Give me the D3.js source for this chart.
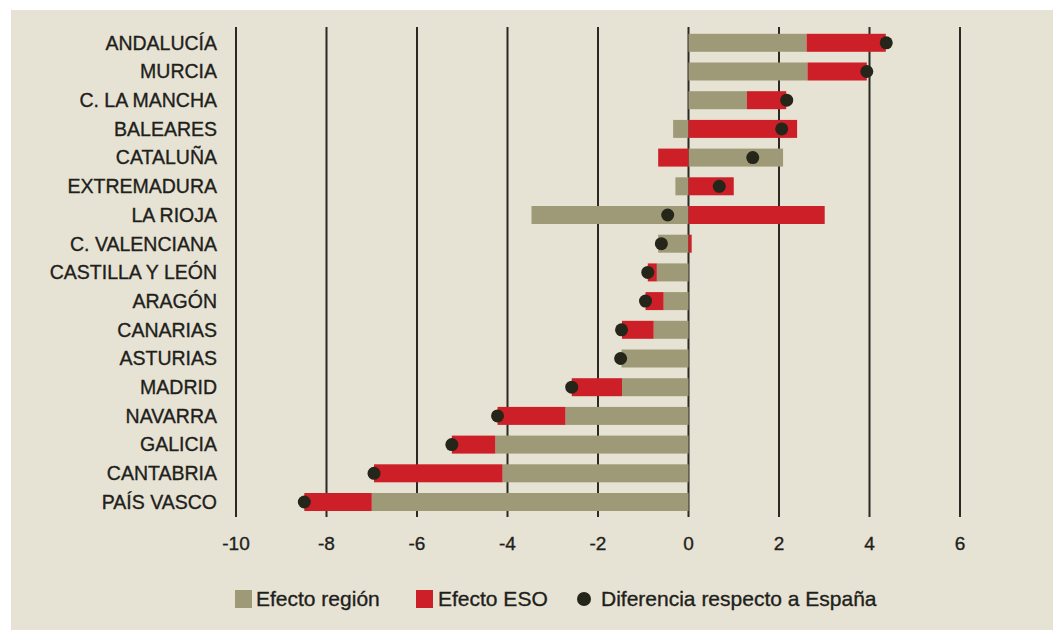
<!DOCTYPE html>
<meta charset="utf-8">
<script src="https://d3js.org/d3.v7.min.js"></script>
<style>
  body { margin: 0; background: #ffffff; }
  text { font-family: "Liberation Sans", Arial, sans-serif; fill: #1f1f1c; stroke: #1f1f1c; stroke-width: 0.35px; }
</style>
<div id="chart"></div>
<script>

// data
var regions = ["ANDALUCÍA", "MURCIA", "C. LA MANCHA", "BALEARES", "CATALUÑA", "EXTREMADURA",
  "LA RIOJA", "C. VALENCIANA", "CASTILLA Y LEÓN", "ARAGÓN", "CANARIAS", "ASTURIAS",
  "MADRID", "NAVARRA", "GALICIA", "CANTABRIA", "PAÍS VASCO"];
var efectoRegion = [2.61, 2.63, 1.29, -0.34, 2.09, -0.29, -3.47, -0.67, -0.70, -0.55, -0.77, -1.48, -1.47, -2.72, -4.27, -4.11, -7.00];
var efectoESO = [1.75, 1.31, 0.87, 2.40, -0.67, 1.00, 3.01, 0.07, -0.20, -0.40, -0.70, 0, -1.11, -1.50, -0.96, -2.84, -1.49];
var diferencia = [4.37, 3.94, 2.17, 2.06, 1.42, 0.68, -0.46, -0.60, -0.90, -0.95, -1.48, -1.50, -2.58, -4.22, -5.23, -6.95, -8.49];
var ticks = [-10, -8, -6, -4, -2, 0, 2, 4, 6];
var legendLabels = ["Efecto región", "Efecto ESO", "Diferencia respecto a España"];

var width = 1053, height = 630;
var cOlive = "#9e9a78", cRed = "#cc1f27", cDot = "#25251a";

var rows = regions.map(function(r, i) {
  return { name: r, reg: efectoRegion[i], eso: efectoESO[i], dif: diferencia[i] };
});

var svg = d3.select("#chart").append("svg")
  .attr("width", width)
  .attr("height", height);

// beige panel
svg.append("rect")
  .attr("x", 11).attr("y", 10)
  .attr("width", width - 11).attr("height", height - 10)
  .attr("fill", "#e7e3d4");

var x = d3.scaleLinear().domain([-10, 6]).range([236, 960]);
var y = d3.scaleBand().domain(regions).range([33.8, 511]).paddingInner(0.373).paddingOuter(0);

// gridlines
svg.selectAll(".grid")
  .data(ticks)
  .enter().append("line")
    .attr("x1", function(d) { return x(d); })
    .attr("x2", function(d) { return x(d); })
    .attr("y1", 27).attr("y2", 517)
    .attr("stroke", "#2b2924")
    .attr("stroke-width", 2);

// tick labels
svg.selectAll(".tick")
  .data(ticks)
  .enter().append("text")
    .attr("x", function(d) { return x(d); })
    .attr("y", 543)
    .attr("dy", "0.35em")
    .attr("text-anchor", "middle")
    .style("font-size", "19px")
    .text(function(d) { return d; });

// region labels
svg.selectAll(".lab")
  .data(rows)
  .enter().append("text")
    .attr("x", 217)
    .attr("y", function(d) { return y(d.name) + y.bandwidth() / 2; })
    .attr("dy", "0.35em")
    .attr("text-anchor", "end")
    .style("font-size", "19.5px")
    .text(function(d) { return d.name; });

// efecto región bars
svg.selectAll(".reg")
  .data(rows)
  .enter().append("rect")
    .attr("x", function(d) { return x(Math.min(0, d.reg)); })
    .attr("width", function(d) { return Math.abs(x(d.reg) - x(0)); })
    .attr("y", function(d) { return y(d.name); })
    .attr("height", y.bandwidth())
    .attr("fill", cOlive);

// efecto ESO bars: stacked after region when same sign, else from zero
svg.selectAll(".eso")
  .data(rows)
  .enter().append("rect")
    .attr("x", function(d) {
      var start = (d.reg * d.eso > 0) ? d.reg : 0;
      return x(Math.min(start, start + d.eso));
    })
    .attr("width", function(d) { return Math.abs(x(d.eso) - x(0)); })
    .attr("y", function(d) { return y(d.name); })
    .attr("height", y.bandwidth())
    .attr("fill", cRed);

// diferencia dots
svg.selectAll(".dot")
  .data(rows)
  .enter().append("circle")
    .attr("cx", function(d) { return x(d.dif); })
    .attr("cy", function(d) { return y(d.name) + y.bandwidth() / 2; })
    .attr("r", 6.5)
    .attr("fill", cDot);

// legend
var legY = 599;
var leg = svg.append("g");
leg.append("rect").attr("x", 235).attr("y", legY - 9).attr("width", 17).attr("height", 18).attr("fill", cOlive);
leg.append("text").attr("x", 256).attr("y", legY).attr("dy", "0.35em").style("font-size", "21px").text(legendLabels[0]);
leg.append("rect").attr("x", 416).attr("y", legY - 9).attr("width", 17).attr("height", 18).attr("fill", cRed);
leg.append("text").attr("x", 438).attr("y", legY).attr("dy", "0.35em").style("font-size", "21px").text(legendLabels[1]);
leg.append("circle").attr("cx", 584).attr("cy", legY).attr("r", 7).attr("fill", cDot);
leg.append("text").attr("x", 601).attr("y", legY).attr("dy", "0.35em").style("font-size", "21px").text(legendLabels[2]);

</script>
